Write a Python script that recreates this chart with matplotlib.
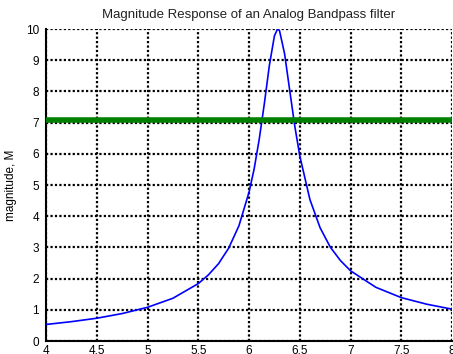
import matplotlib
matplotlib.use("Agg")
import matplotlib.pyplot as plt

freq = [4.0, 4.25, 4.5, 4.75, 5.0, 5.25, 5.5, 5.6, 5.7, 5.8, 5.9, 6.0, 6.05, 6.1,
        6.15, 6.2, 6.25, 6.28, 6.3, 6.35, 6.4, 6.45, 6.5, 6.6, 6.7, 6.8, 6.9, 7.0,
        7.25, 7.5, 7.75, 8.0]
magnitude = [0.53, 0.62, 0.73, 0.88, 1.08, 1.37, 1.84, 2.12, 2.48, 2.98, 3.69, 4.77,
             5.51, 6.46, 7.59, 8.83, 9.78, 10.0, 9.95, 9.21, 8.05, 6.90, 5.93, 4.53,
             3.63, 3.01, 2.58, 2.25, 1.72, 1.39, 1.18, 1.02]
half_power_x = [4.0, 8.0]
half_power_y = [7.07, 7.07]

xticks = [4, 4.5, 5, 5.5, 6, 6.5, 7, 7.5, 8]
xticklabels = ["4", "4.5", "5", "5.5", "6", "6.5", "7", "7.5", "8"]
yticks = list(range(0, 11))

plt.rcParams['font.family'] = ['Liberation Sans', 'DejaVu Sans']

fig = plt.figure(figsize=(4.53, 3.54), dpi=100)
ax = fig.add_axes([0.1015, 0.0367, 0.8965, 0.8813])

ax.plot(freq, magnitude, color='#0000ff', linewidth=1.2, zorder=3)
ax.plot(half_power_x, half_power_y, color='#008000', linewidth=4.0,
        solid_capstyle='butt', zorder=4)

ax.set_xlim(4, 8)
ax.set_ylim(0, 10)
ax.set_xticks(xticks)
ax.set_xticklabels(xticklabels)
ax.set_yticks(yticks)

ax.grid(True, color='black', linestyle=(0, (1.0, 1.0)), linewidth=1.6)
ax.tick_params(direction='in', length=0, labelsize=8.5, colors='black')
ax.tick_params(axis='y', pad=5)
ax.tick_params(axis='x', pad=3)

for s in ['top', 'right']:
    ax.spines[s].set_visible(False)
for s in ['left', 'bottom']:
    ax.spines[s].set_linewidth(1.5)

ax.set_title('Magnitude Response of an Analog Bandpass filter', fontsize=9.5,
             pad=8, color='#222222')
ax.set_ylabel('magnitude, M', fontsize=8.5, labelpad=6)

fig.savefig('out.png', dpi=100)
